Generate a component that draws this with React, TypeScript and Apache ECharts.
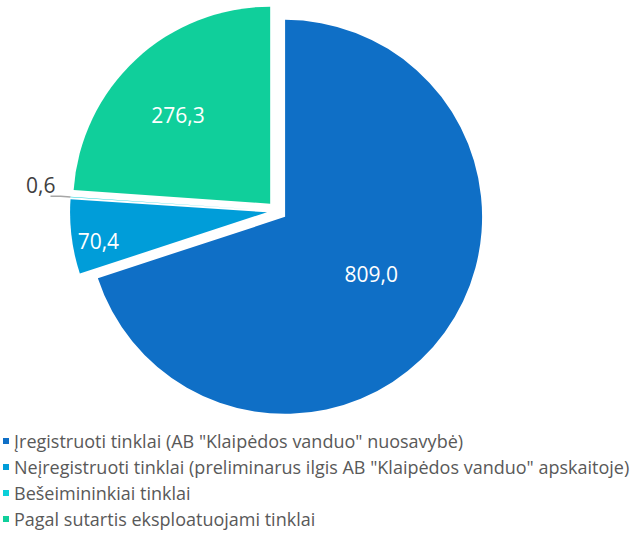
import React, { useEffect, useRef } from "react";
import * as echarts from "echarts";

const categories = [
  'Įregistruoti tinklai (AB "Klaipėdos vanduo" nuosavybė)',
  'Neįregistruoti tinklai (preliminarus ilgis AB "Klaipėdos vanduo" apskaitoje)',
  "Bešeimininkiai tinklai",
  "Pagal sutartis eksploatuojami tinklai",
];
const values = [809.0, 70.4, 0.6, 276.3];
const colors = ["#0F6FC6", "#009DD9", "#0BD0D9", "#10CF9B"];

const FONT = "'Open Sans', sans-serif";

export default function App() {
  const ref = useRef<HTMLDivElement>(null);
  useEffect(() => {
    if (!ref.current) return;
    const chart = echarts.init(ref.current, undefined, { renderer: "svg" });
    const labelShift: number[][] = [[4, -2], [-68, 16], [10, -11], [-23, -14]];
    const data = values.map((v, i) => {
      const outside = i === 2;
      return {
        name: categories[i],
        value: v,
        selected: true,
        itemStyle: { color: colors[i] },
        label: outside
          ? { position: "outside", color: "#404040" }
          : { position: "inside", color: "#ffffff" },
        labelLine: outside
          ? { show: true, length: 10, length2: 10, lineStyle: { color: "#A6A6A6", width: 1.5 } }
          : { show: false },
      };
    });
    chart.setOption({
      animation: false,
      color: colors,
      legend: {
        orient: "vertical",
        left: 3,
        top: 432,
        padding: 0,
        icon: "rect",
        itemWidth: 6,
        itemHeight: 6,
        itemGap: 8,
        textStyle: { fontFamily: FONT, fontSize: 18, lineHeight: 18, color: "#595959" },
        selectedMode: false,
        data: categories,
      },
      series: [
        {
          type: "pie",
          center: [277, 211],
          radius: 197,
          startAngle: 90,
          clockwise: true,
          selectedMode: "multiple",
          selectedOffset: 10,
          avoidLabelOverlap: false,
          emphasis: { disabled: true },
          itemStyle: { borderWidth: 0 },
          label: {
            fontFamily: FONT,
            fontSize: 21,
            formatter: (p: any) => p.value.toFixed(1).replace(".", ","),
          },
          labelLayout: (p: any) => {
            const s = labelShift[p.dataIndex];
            return { dx: s[0], dy: s[1] };
          },
          data,
        },
      ],
    });
    return () => chart.dispose();
  }, []);
  return <div ref={ref} style={{ width: 635, height: 535, position: "absolute", left: 0, top: 0 }} />;
}
